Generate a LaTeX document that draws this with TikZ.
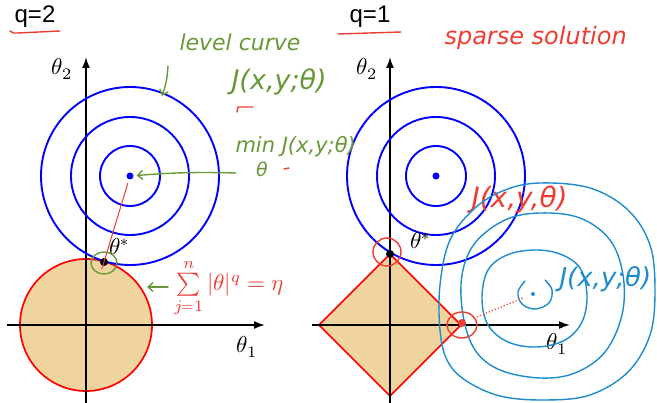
\documentclass[tikz,border=0pt]{standalone}
\usepackage{amsmath}
\usepackage{fontspec}
\usepackage{unicode-math}
\setmathfont{Latin Modern Math}
\setsansfont{Liberation Sans}
\newfontfamily\handfont{DejaVu Sans}
\usetikzlibrary{arrows.meta, positioning, calc}

\definecolor{ballfill}{RGB}{240,212,160}
\definecolor{penGreen}{RGB}{104,152,56}
\definecolor{penRed}{RGB}{238,60,50}
\definecolor{penBlue}{RGB}{28,140,204}

% math labels at picture size
\newcommand{\biglab}[2][2.3]{\scalebox{#1}{$#2$}}

\begin{document}
\begin{tikzpicture}[
    x=1pt, y=-1pt, >=Latex,
    % --- STYLES ---
    axis/.style={line width=1.7pt, -{Latex[length=11pt, width=8pt]}},
    ball/.style={draw=red, line width=1.7pt, fill=ballfill},
    level/.style={draw=blue, line width=1.9pt},
    dot/.style={circle, fill, inner sep=0pt, minimum size=7pt},
    axis_label/.style={inner sep=1pt},
    q_label/.style={font=\sffamily\fontsize{24}{26}\selectfont},
    % Pen Styles (hand written notes)
    pen/.style={line width=1.4pt, line cap=round, line join=round},
    pen_text/.style={font=\handfont\itshape\fontsize{#1}{#1}\selectfont},
    pen_arrow/.style={pen, -{Straight Barb[length=5pt, width=9pt]}}
]
\useasboundingbox (0,0) rectangle (657,403);

% --- 1. LEFT PANEL (q=2) ---
\node[q_label] (q2) at (35,17) {q=2};
\draw[pen, penRed] (10,31) to[out=-60, in=180] (18,33) -- (60,31);

\draw[ball] (86,325) circle[radius=66];
\draw[axis] (7,325) -- (265,325);
\draw[axis] (86,403) -- (86,57);
\node[axis_label] (t1L) at (247,347) {\biglab{\theta_1}};
\node[axis_label] (t2L) at (62,69) {\biglab{\theta_2}};

\foreach \r in {30, 59, 89} {
    \draw[level] (130,176) circle[radius=\r];
}
\node[dot, blue] (cL) at (130,176) {};
\node[dot, black, minimum size=8pt] (starL) at (104,262) {};
\node[axis_label] (sL) at (120,247) {\biglab{\theta^{*}}};

% --- 2. RIGHT PANEL (q=1) ---
\node[q_label] (q1) at (370,17) {q=1};
\draw[pen, penRed] (338,34) -- (401,32);

\draw[ball] (390,254) -- (461,325) -- (390,396) -- (319,325) -- cycle;
\draw[axis] (312,325) -- (570,325);
\draw[axis] (390,403) -- (390,57);
\node[axis_label] (t1R) at (557,344) {\biglab{\theta_1}};
\node[axis_label] (t2R) at (367,69) {\biglab{\theta_2}};

\foreach \r in {30, 59, 89} {
    \draw[level] (436,176) circle[radius=\r];
}
\node[dot, blue] (cR) at (436,176) {};
\node[dot, black, minimum size=8pt] (starR) at (390,254) {};
\node[axis_label] (sR) at (421,241) {\biglab{\theta^{*}}};

% --- 3. GREEN NOTES (left) ---
\node[pen_text=22, penGreen, anchor=west] (levelTxt) at (176,42) {level curve};
\node[pen_text=27, penGreen, anchor=west] (costTxt) at (228,82) {J(x,y;θ)};
\draw[pen, penRed] (237,112) -- (238,107) -- (253,107);

\coordinate (levelTail) at (168,66);
\coordinate (levelTip) at (162,96);
\draw[pen_arrow, penGreen] (levelTail) to[bend left=8] (levelTip);

\node[pen_text=21, penGreen, anchor=west] (minTxt) at (232,147) {min J(x,y;θ)};
\node[pen_text=19, penGreen] (minSub) at (262,169) {θ};
\draw[pen, penRed] (284,169) -- (289,168);
\coordinate (minTail) at (236,173);
\draw[pen_arrow, penGreen, shorten >=3pt] (minTail) to[bend right=3] (cL);

% optimum on the circle
\draw[pen, penRed, line width=1pt, shorten <=4pt] (cL) -- ($(cL)!1.08!(starL)$);
\draw[pen, penGreen] (104,263) ellipse[x radius=13, y radius=11];
\coordinate (sumTail) at (168,287);
\coordinate (sumTip) at (147,287);
\draw[pen_arrow, penGreen] (sumTail) -- (sumTip);
\node[penRed, anchor=west, inner sep=0pt] (sumTxt) at (174,288) {\biglab[2.3]{\sum\limits_{j=1}^{n}|\theta|^{q}=\eta}};

% --- 4. RED / BLUE NOTES (right) ---
\node[pen_text=24, penRed, anchor=west] (sparseTxt) at (441,38) {sparse solution};
\node[pen_text=28, penRed, anchor=west] (costRed) at (468,200) {J(x,y,θ)};

% hand drawn contours of the second cost
\draw[pen, penBlue] plot[smooth cycle, tension=0.6] coordinates {
    (534,250) (560,254) (580,268) (587,295) (582,322) (565,340)
    (537,347) (508,342) (488,325) (482,298) (488,270) (507,255)};
\draw[pen, penBlue] plot[smooth cycle, tension=0.6] coordinates {
    (540,213) (580,218) (610,240) (623,275) (622,315) (605,352)
    (575,373) (540,378) (500,370) (475,350) (463,315) (462,275)
    (475,243) (505,220)};
\draw[pen, penBlue] plot[smooth cycle, tension=0.6] coordinates {
    (540,183) (590,188) (628,210) (650,245) (655,290) (650,335)
    (628,372) (590,395) (545,400) (500,396) (465,380) (447,360)
    (440,330) (440,285) (450,240) (475,208) (505,190)};
\draw[pen, penBlue] plot[smooth, tension=0.6] coordinates {
    (525,281) (518,292) (522,304) (535,309) (549,303) (552,290) (545,280)};
\node[dot, penBlue, minimum size=4pt] (cB) at (533,294) {};
\node[pen_text=26, penBlue, anchor=west] (costBlue) at (556,279) {J(x,y;θ)};

% corner solutions
\node[dot, penRed, minimum size=8pt] (redPt) at (462,323) {};
\draw[pen, penRed] (387,252) circle[radius=14];
\draw[pen, penRed] (462,325) ellipse[x radius=15, y radius=13];
\draw[penRed, line width=1.2pt, dotted, shorten <=12pt, shorten >=8pt] (redPt) -- (cB);

\end{tikzpicture}
\end{document}
